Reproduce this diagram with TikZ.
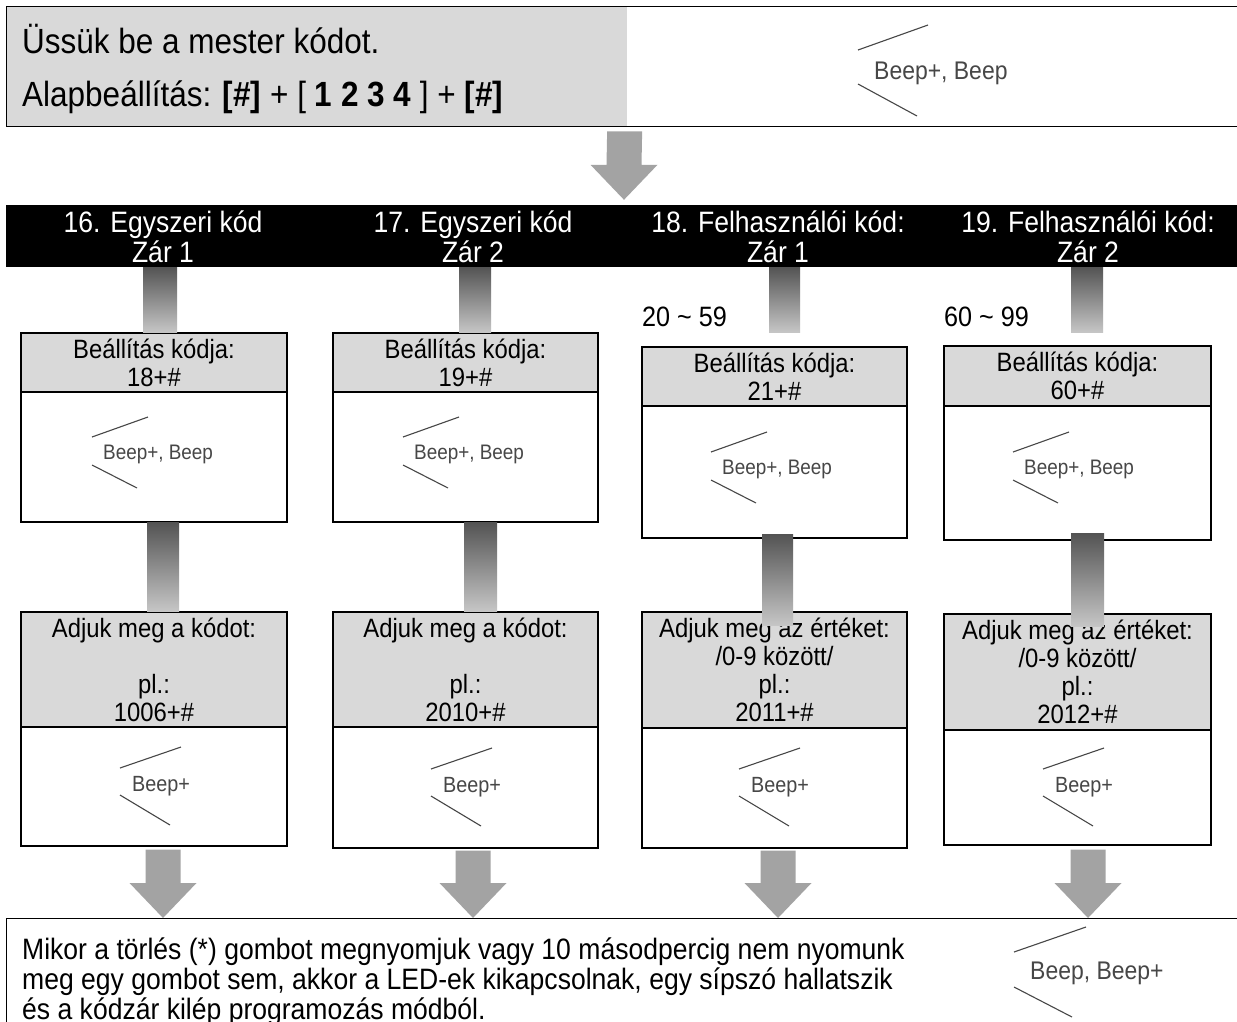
\documentclass[tikz,border=0pt]{standalone}
\usepackage{fontspec}
\setmainfont{Liberation Sans}[FakeStretch=0.9]
\usetikzlibrary{calc}
\definecolor{hgray}{HTML}{D9D9D9}
\definecolor{agray}{HTML}{A3A3A3}
\definecolor{beepc}{HTML}{474747}
\definecolor{cdark}{HTML}{545454}
\definecolor{clight}{HTML}{C6C6C6}
\newcommand\fs[2]{\fontsize{#1}{#2}\selectfont}
\newcommand\beeplines[9]{%
  \draw[beepline] ($(#1.west)+(#2,#3)$) -- ($(#1.west)+(#4,#5)$);
  \draw[beepline] ($(#1.west)+(#6,#7)$) -- ($(#1.west)+(#8,#9)$);}
\newcommand\blockarrow[2]{%
  \fill[agray] ($(#1)+(-17.5,0)$) -- ($(#1)+(17.5,0)$) -- ($(#2)+(17.5,-35)$) -- ($(#2)+(33.5,-35)$) -- (#2) -- ($(#2)+(-33.5,-35)$) -- ($(#2)+(-17.5,-35)$) -- cycle;}
\begin{document}
\begin{tikzpicture}[x=1pt,y=-1pt,
  hdr/.style={draw=black, line width=1.3pt, fill=hgray, align=center, inner sep=0pt, font=\fs{26.5}{28}},
  bodybox/.style={draw=black, line width=1.3pt, fill=white, inner sep=0pt},
  bandtxt/.style={text=white, align=center, inner sep=0pt, font=\fs{29.5}{29.5}},
  beeptxt/.style={text=beepc, inner sep=0pt, anchor=west},
  beepline/.style={draw=beepc, line width=1.1pt},
  conn/.style={top color=cdark, bottom color=clight},
  bigtxt/.style={anchor=base west, inner sep=0pt, font=\fs{35}{40}},
  bottxt/.style={anchor=base west, inner sep=0pt, font=\fs{29.5}{30}},
  rangetxt/.style={anchor=west, inner sep=0pt, font=\fs{28}{30}}]
\fill[white] (0,0) rectangle (1237,1021);
\useasboundingbox (0,0) rectangle (1237,1021);

% ---------- top box ----------
\fill[hgray] (6,6) rectangle (627,126);
\node[draw=black, line width=1.3pt, minimum width=1260, minimum height=120, anchor=north west, inner sep=0pt] (topbox) at (6,6) {};
\node[bigtxt] (t1) at (22,53) {Üssük be a mester kódot.};
\node[bigtxt] (t2) at (22,106) {Alapbeállítás: \textbf{[\#]} + [ \textbf{1 2 3 4} ] + \textbf{[\#]}};
\node[beeptxt, font=\fs{25.5}{28}] (bp0) at (874,73) {Beep+, Beep};
\beeplines{bp0}{-16}{-23}{54}{-48}{-16}{11}{43}{43}

% ---------- black band ----------
\node[fill=black, minimum width=1231, minimum height=62, inner sep=0pt] (band) at (621.5,236) {};
\node[bandtxt] (n1) at (163,237) {16. Egyszeri kód\\Zár 1};
\node[bandtxt] (n2) at (473,237) {17. Egyszeri kód\\Zár 2};
\node[bandtxt] (n3) at (778,237) {18. Felhasználói kód:\\Zár 1};
\node[bandtxt] (n4) at (1088,237) {19. Felhasználói kód:\\Zár 2};

\coordinate (ta) at ($(topbox.south)+(-12,4)$);
\coordinate (te) at ($(band.north)+(2.5,-5)$);
\blockarrow{ta}{te}

\node[rangetxt] (r3) at (642,317) {20 \textasciitilde{} 59};
\node[rangetxt] (r4) at (944,317) {60 \textasciitilde{} 99};

% ---------- column boxes ----------
\node[bodybox, minimum width=266, minimum height=130] (b1) at (154,457) {};
\node[hdr, minimum width=266, minimum height=59] (h1) at (154,362.5) {Beállítás kódja:\\18+\#};
\node[bodybox, minimum width=266, minimum height=119] (lb1) at (154,786.5) {};
\node[hdr, minimum width=266, minimum height=115] (l1) at (154,669.5) {Adjuk meg a kódot:\\[28pt]pl.:\\1006+\#};

\node[bodybox, minimum width=265, minimum height=130] (b2) at (465.5,457) {};
\node[hdr, minimum width=265, minimum height=59] (h2) at (465.5,362.5) {Beállítás kódja:\\19+\#};
\node[bodybox, minimum width=265, minimum height=121] (lb2) at (465.5,787.5) {};
\node[hdr, minimum width=265, minimum height=115] (l2) at (465.5,669.5) {Adjuk meg a kódot:\\[28pt]pl.:\\2010+\#};

\node[bodybox, minimum width=265, minimum height=132] (b3) at (774.5,472) {};
\node[hdr, minimum width=265, minimum height=59] (h3) at (774.5,376.5) {Beállítás kódja:\\21+\#};
\node[bodybox, minimum width=265, minimum height=120] (lb3) at (774.5,788) {};
\node[hdr, minimum width=265, minimum height=116] (l3) at (774.5,670) {Adjuk meg az értéket:\\/0-9 között/\\pl.:\\2011+\#};

\node[bodybox, minimum width=267, minimum height=134] (b4) at (1077.5,473) {};
\node[hdr, minimum width=267, minimum height=60] (h4) at (1077.5,376) {Beállítás kódja:\\60+\#};
\node[bodybox, minimum width=267, minimum height=115] (lb4) at (1077.5,787.5) {};
\node[hdr, minimum width=267, minimum height=116] (l4) at (1077.5,672) {Adjuk meg az értéket:\\/0-9 között/\\pl.:\\2012+\#};

% ---------- beep icons ----------
\node[beeptxt, font=\fs{21}{24}] (bu1) at (103,454) {Beep+, Beep};
\beeplines{bu1}{-11}{-17}{45}{-37}{-11}{11}{34}{34}
\node[beeptxt, font=\fs{21}{24}] (bu2) at (414,454) {Beep+, Beep};
\beeplines{bu2}{-11}{-17}{45}{-37}{-11}{11}{34}{34}
\node[beeptxt, font=\fs{21}{24}] (bu3) at (722,469) {Beep+, Beep};
\beeplines{bu3}{-11}{-17}{45}{-37}{-11}{11}{34}{34}
\node[beeptxt, font=\fs{21}{24}] (bu4) at (1024,469) {Beep+, Beep};
\beeplines{bu4}{-11}{-17}{45}{-37}{-11}{11}{34}{34}

\node[beeptxt, font=\fs{22}{24}] (bl1) at (132,786) {Beep+};
\beeplines{bl1}{-12}{-18}{49}{-39}{-12}{9}{38}{39}
\node[beeptxt, font=\fs{22}{24}] (bl2) at (443,787) {Beep+};
\beeplines{bl2}{-12}{-18}{49}{-39}{-12}{9}{38}{39}
\node[beeptxt, font=\fs{22}{24}] (bl3) at (751,787) {Beep+};
\beeplines{bl3}{-12}{-18}{49}{-39}{-12}{9}{38}{39}
\node[beeptxt, font=\fs{22}{24}] (bl4) at (1055,787) {Beep+};
\beeplines{bl4}{-12}{-18}{49}{-39}{-12}{9}{38}{39}

% ---------- gradient connectors ----------
\coordinate (c1a) at ($(h1.north)+(-11,0)$);
\shade[conn] (c1a |- band.south) rectangle ($(h1.north)+(23,0)$);
\coordinate (c2a) at ($(h2.north)+(-6.5,0)$);
\shade[conn] (c2a |- band.south) rectangle ($(h2.north)+(25.5,0)$);
\coordinate (c3a) at ($(h3.north)+(-5.5,0)$);
\shade[conn] (c3a |- band.south) rectangle ($(h3.north)+(25.5,-14)$);
\coordinate (c4a) at ($(h4.north)+(-6.5,0)$);
\shade[conn] (c4a |- band.south) rectangle ($(h4.north)+(25.5,-13)$);

\shade[conn] ($(b1.south)+(-7,0)$) rectangle ($(l1.north)+(25,0)$);
\shade[conn] ($(b2.south)+(-1.5,0)$) rectangle ($(l2.north)+(31.5,0)$);
\shade[conn] ($(b3.south)+(-12.5,-4)$) rectangle ($(l3.north)+(18.5,14)$);
\shade[conn] ($(b4.south)+(-6.5,-7)$) rectangle ($(l4.north)+(26.5,13)$);

% ---------- bottom box ----------
\node[draw=black, line width=1.3pt, minimum width=1260, minimum height=140, anchor=north west, inner sep=0pt] (botbox) at (6,918) {};
\node[bottxt] (bt1) at (22,959) {Mikor a törlés (*) gombot megnyomjuk vagy 10 másodpercig nem nyomunk};
\node[bottxt] (bt2) at (22,989) {meg egy gombot sem, akkor a LED-ek kikapcsolnak, egy sípszó hallatszik};
\node[bottxt] (bt3) at (22,1019) {és a kódzár kilép programozás módból.};
\node[beeptxt, font=\fs{25.5}{28}] (bp9) at (1030,973) {Beep, Beep+};
\beeplines{bp9}{-16}{-21}{56}{-46}{-16}{14}{42}{44}

% ---------- bottom arrows ----------
\coordinate (a1s) at ($(lb1.south)+(9,3)$);
\coordinate (a2s) at ($(lb2.south)+(7.5,2)$);
\coordinate (a3s) at ($(lb3.south)+(3.5,2)$);
\coordinate (a4s) at ($(lb4.south)+(10.5,4)$);
\coordinate (a1e) at (a1s |- botbox.north);
\coordinate (a2e) at (a2s |- botbox.north);
\coordinate (a3e) at (a3s |- botbox.north);
\coordinate (a4e) at (a4s |- botbox.north);
\blockarrow{a1s}{a1e}
\blockarrow{a2s}{a2e}
\blockarrow{a3s}{a3e}
\blockarrow{a4s}{a4e}
\end{tikzpicture}
\end{document}
